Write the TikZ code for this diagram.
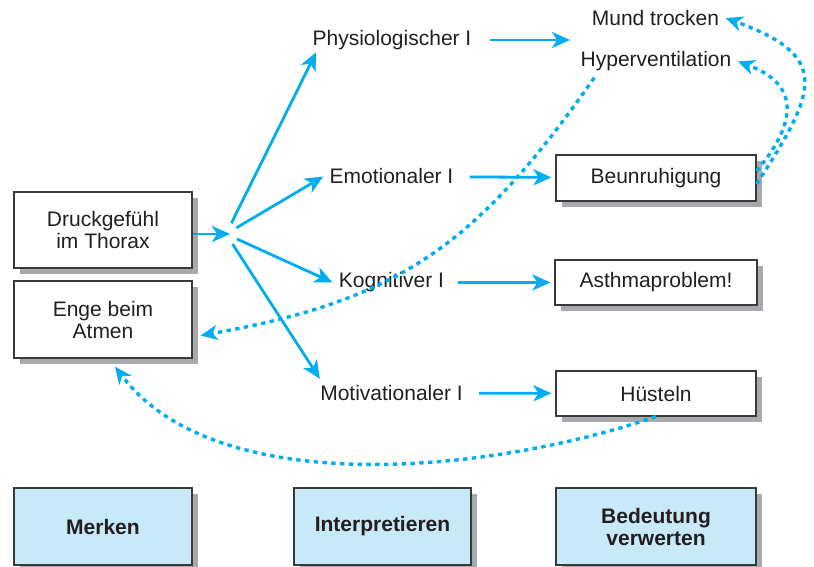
\documentclass[tikz,border=0pt]{standalone}
\usepackage{fontspec}
\setmainfont{Liberation Sans}
\usetikzlibrary{arrows.meta,shadows}
\definecolor{ink}{HTML}{231F20}
\definecolor{cyanline}{HTML}{00AEEF}
\definecolor{boxedge}{HTML}{3A3A3A}
\definecolor{shade}{HTML}{A7A9AC}
\definecolor{stage}{HTML}{C8E9F8}

\begin{document}
\begin{tikzpicture}[x=0.5pt,y=0.5pt,font=\fontsize{10.5}{11}\selectfont,text=ink,
  box/.style={draw=boxedge,fill=white,line width=0.6pt,align=center,minimum width=89pt,minimum height=38pt,inner sep=2pt,drop shadow={shadow xshift=3pt,shadow yshift=-3pt,fill=shade,opacity=1}},
  smallbox/.style={box,minimum width=100pt,minimum height=23pt},
  stagebox/.style={box,fill=stage,minimum height=38.5pt,font=\fontsize{10.5}{11}\selectfont\bfseries},
  lbl/.style={inner sep=3pt},
  flow/.style={-{Stealth[length=9pt,width=8pt,inset=2.5pt]},line width=1.4pt,cyanline},
  hint/.style={-{Stealth[length=8.5pt,width=7.5pt,inset=2.5pt]},line width=1.7pt,cyanline,dash pattern=on 2.2pt off 2.2pt}]
  \useasboundingbox (0,0) rectangle (814,567);

  % ===== boxes =====
  \node[box] (druck) at (103,337) {Druckgefühl\\im Thorax};
  \node[box,minimum height=38.5pt] (enge) at (103,247.5) {Enge beim\\Atmen};
  \node[smallbox] (beun) at (656,389) {Beunruhigung};
  \node[smallbox,minimum width=101pt,minimum height=22.5pt] (asthma) at (656,284.5) {Asthmaproblem!};
  \node[smallbox,minimum height=22.5pt] (huest) at (656,173.5) {Hüsteln};

  % ===== stages =====
  \node[stagebox] (merken) at (103,40.5) {Merken};
  \node[stagebox,minimum width=88.5pt] (interp) at (382.5,40.5) {Interpretieren};
  \node[stagebox,minimum width=100pt] (bedeut) at (656,40.5) {Bedeutung\\verwerten};

  % ===== labels =====
  \node[lbl] (physio) at (392,527) {Physiologischer I};
  \node[lbl] (emo) at (391.5,390.5) {Emotionaler I};
  \node[lbl] (kog) at (391.5,284.5) {Kognitiver I};
  \node[lbl] (motiv) at (391.5,174) {Motivationaler I};
  \node[lbl] (mund) at (655.5,549) {Mund trocken};
  \node[lbl] (hyper) at (656,505.5) {Hyperventilation};
  \coordinate (hub) at (226,333);
  \coordinate (symp) at (570,527);

  % ===== flows =====
  \draw[flow] (druck.east |- hub) -- ([xshift=2pt]hub);
  \draw[flow,shorten <=6pt] (hub) -- ([xshift=5pt,yshift=2pt]physio.south west);
  \draw[flow,shorten <=6pt] (hub) -- (emo.west);
  \draw[flow,shorten <=6pt] (hub) -- (kog.west);
  \draw[flow,shorten <=6pt] (hub) -- ([xshift=3pt]motiv.north west);
  \draw[flow,shorten <=6pt] (physio) -- (symp);
  \draw[flow,shorten <=5pt,shorten >=2pt] (emo) -- (beun);
  \draw[flow,shorten <=4pt,shorten >=2pt] (kog) -- (asthma);
  \draw[flow,shorten <=5pt,shorten >=2pt] (motiv) -- (huest);

  % ===== feedback =====
  \draw[hint] ([xshift=10pt]hyper.south west) to[out=235,in=10,looseness=1.1] ([shift={(4pt,-8pt)}]enge.east);
  \draw[hint] (huest.south) to[out=199,in=-53,looseness=0.8] ([shift={(6pt,-4pt)}]enge.south);
  \draw[hint] ([yshift=3.5pt]beun.east) to[out=50,in=-20,looseness=1.5] (hyper.east);
  \draw[hint] ([yshift=-3pt]beun.east) to[out=57,in=-20,looseness=1.7] (mund.east);
\end{tikzpicture}
\end{document}
